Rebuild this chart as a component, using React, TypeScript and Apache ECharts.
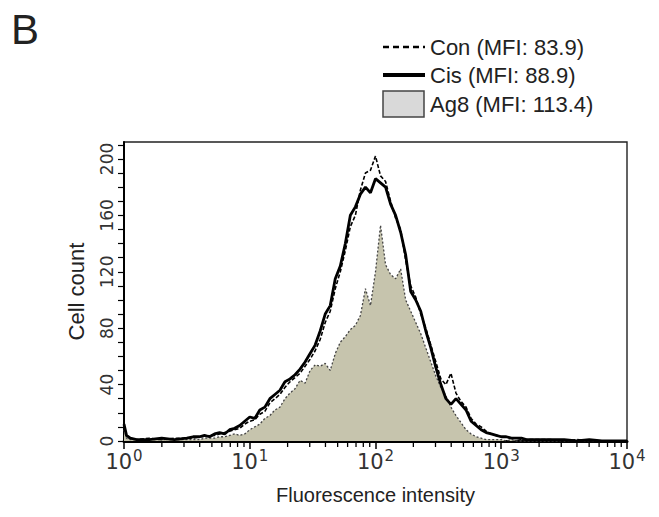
import React, { useEffect, useRef } from "react";
import * as echarts from "echarts";

// Bin centres as decade exponents (x = 10^e)
const binExponents = [
  0, 0.02, 0.05, 0.1, 0.2, 0.3, 0.4, 0.5, 0.55,
  0.6, 0.64, 0.68, 0.72, 0.76, 0.8, 0.84, 0.88, 0.92, 0.96,
  1.0, 1.04, 1.08, 1.12, 1.16, 1.2, 1.24, 1.28, 1.32, 1.36,
  1.4, 1.44, 1.48, 1.52, 1.56, 1.6, 1.64, 1.68, 1.72, 1.76,
  1.8, 1.84, 1.88, 1.92, 1.96, 2.0, 2.04, 2.08, 2.12, 2.16,
  2.2, 2.24, 2.28, 2.32, 2.36, 2.4, 2.44, 2.48, 2.52, 2.56,
  2.6, 2.64, 2.68, 2.72, 2.76, 2.8, 2.84, 2.88, 2.92, 2.96,
  3.0, 3.04, 3.08, 3.12, 3.16, 3.2,
  3.3, 3.4, 3.5, 3.6, 3.7, 3.8, 3.9, 4.0,
];

const conCounts = [
  10, 3, 2, 1, 2, 1, 2, 2, 2,
  3, 3, 4, 4, 5, 6, 7, 8, 9, 12,
  14, 15, 19, 21, 27, 30, 33, 38, 42, 45,
  48, 53, 58, 64, 72, 84, 92, 108, 120, 135,
  152, 160, 178, 190, 192, 202, 188, 184, 170, 158,
  150, 128, 110, 102, 90, 80, 68, 56, 44, 40,
  48, 34, 28, 24, 16, 12, 10, 7, 5, 4,
  3, 3, 2, 2, 1, 1,
  1, 1, 0, 1, 0, 0, 0, 0,
];

const cisCounts = [
  12, 4, 2, 1, 1, 2, 1, 2, 3,
  3, 4, 3, 5, 6, 5, 8, 9, 11, 14,
  17, 16, 22, 24, 30, 33, 36, 42, 44, 47,
  51, 56, 62, 68, 78, 90, 96, 115, 124, 140,
  160, 166, 175, 180, 176, 186, 183, 180, 168, 160,
  148, 132, 106, 100, 92, 78, 66, 52, 40, 30,
  26, 30, 26, 22, 14, 11, 8, 6, 5, 4,
  3, 3, 2, 2, 2, 1,
  1, 1, 1, 0, 1, 0, 0, 0,
];

const ag8Counts = [
  8, 2, 1, 1, 1, 1, 1, 1, 1,
  1, 2, 2, 2, 3, 3, 4, 5, 4, 5,
  8, 10, 12, 16, 18, 22, 24, 30, 34, 37,
  43, 41, 50, 54, 53, 55, 50, 62, 70, 74,
  79, 82, 89, 108, 96, 120, 153, 125, 118, 115,
  122, 100, 92, 84, 76, 66, 56, 46, 38, 32,
  24, 18, 13, 8, 5, 3, 2, 1, 1, 1,
  1, 0, 1, 0, 0, 0,
  0, 0, 0, 0, 0, 0, 0, 0,
];

const legendLabels = ["Con (MFI: 83.9)", "Cis (MFI: 88.9)", "Ag8 (MFI: 113.4)"];

const xMinorTicks = [
  2, 3, 4, 5, 6, 7, 8, 9,
  20, 30, 40, 50, 60, 70, 80, 90,
  200, 300, 400, 500, 600, 700, 800, 900,
  2000, 3000, 4000, 5000, 6000, 7000, 8000, 9000,
];

const SANS = "'Liberation Sans', Arial, Helvetica, sans-serif";
const TICKFONT = "'DejaVu Sans', Verdana, sans-serif";

export default function App() {
  const ref = useRef<HTMLDivElement>(null);

  useEffect(() => {
    if (!ref.current) return;
    const chart = echarts.init(ref.current, undefined, { renderer: "svg" });
    const toPairs = (arr: number[]) => binExponents.map((e, i) => [Math.pow(10, e), arr[i]]);

    const option: any = {
      animation: false,
      backgroundColor: "#ffffff",
      grid: {
        left: 124,
        right: 32,
        top: 142,
        bottom: 76,
        show: true,
        borderColor: "#222",
        borderWidth: 1.4,
        backgroundColor: "transparent",
      },
      xAxis: {
        type: "log",
        logBase: 10,
        min: 1,
        max: 10000,
        interval: 1,
        name: "Fluorescence intensity",
        nameLocation: "middle",
        nameGap: 44,
        nameTextStyle: { fontFamily: SANS, fontSize: 20, color: "#222" },
        axisLine: { show: true, lineStyle: { color: "#000", width: 3 } },
        axisTick: { show: true, inside: false, length: 8, lineStyle: { color: "#000", width: 1.5 } },
        splitLine: { show: false },
        axisLabel: {
          margin: 7,
          formatter: (v: number) => `{b|10}{s|${Math.round(Math.log10(v))}}`,
          rich: {
            b: { fontFamily: TICKFONT, fontSize: 21, color: "#333" },
            s: { fontFamily: TICKFONT, fontSize: 15, color: "#333", padding: [0, 0, 12, 1] },
          },
        },
      },
      yAxis: {
        type: "value",
        min: 0,
        max: 212,
        interval: 10,
        name: "Cell count",
        nameLocation: "middle",
        nameGap: 37,
        nameRotate: 90,
        nameTextStyle: { fontFamily: SANS, fontSize: 22, color: "#222" },
        axisLine: { show: true, lineStyle: { color: "#000", width: 2 } },
        axisTick: { show: true, inside: false, length: 6, lineStyle: { color: "#000", width: 1.2 } },
        splitLine: { show: false },
        axisLabel: {
          rotate: 90,
          margin: 9,
          showMaxLabel: false,
          fontFamily: TICKFONT,
          fontSize: 17,
          color: "#333",
          formatter: (v: number) => (v % 40 === 0 && v <= 200 ? String(v) : ""),
        },
      },
      series: [
        {
          name: "Ag8",
          type: "line",
          data: toPairs(ag8Counts),
          showSymbol: false,
          symbol: "none",
          lineStyle: { color: "#444", width: 1.3, type: [2, 2] },
          areaStyle: { color: "#c6c4ad", opacity: 1 },
          z: 2,
        },
        {
          name: "Cis",
          type: "line",
          data: toPairs(cisCounts),
          showSymbol: false,
          symbol: "none",
          lineStyle: { color: "#000", width: 2.8 },
          z: 3,
        },
        {
          name: "Con",
          type: "line",
          data: toPairs(conCounts),
          showSymbol: false,
          symbol: "none",
          lineStyle: { color: "#000", width: 1.6, type: [4, 2] },
          z: 4,
        },
        {
          name: "minorTicks",
          type: "custom",
          silent: true,
          data: xMinorTicks.map((v) => [v, 0]),
          renderItem: (_params: any, api: any) => {
            const p = api.coord([api.value(0), 0]);
            return {
              type: "line",
              shape: { x1: p[0], y1: p[1], x2: p[0], y2: p[1] + 6 },
              style: { stroke: "#000", lineWidth: 1.3 },
            };
          },
          z: 5,
        },
      ],
      graphic: [
        { type: "text", left: 11, top: 8, style: { text: "B", font: `42px ${SANS}`, fill: "#222" } },
        {
          type: "line",
          shape: { x1: 383, y1: 47, x2: 425, y2: 47 },
          style: { stroke: "#000", lineWidth: 2.5, lineDash: [6, 4] },
        },
        {
          type: "text",
          x: 430,
          y: 47,
          style: { text: legendLabels[0], font: `22px ${SANS}`, fill: "#222", textVerticalAlign: "middle" },
        },
        {
          type: "line",
          shape: { x1: 383, y1: 75, x2: 425, y2: 75 },
          style: { stroke: "#000", lineWidth: 4 },
        },
        {
          type: "text",
          x: 430,
          y: 75,
          style: { text: legendLabels[1], font: `22px ${SANS}`, fill: "#222", textVerticalAlign: "middle" },
        },
        {
          type: "rect",
          shape: { x: 383, y: 91, width: 41, height: 26 },
          style: { fill: "#d9d9d9", stroke: "#444", lineWidth: 1.5 },
        },
        {
          type: "text",
          x: 430,
          y: 104,
          style: { text: legendLabels[2], font: `22px ${SANS}`, fill: "#222", textVerticalAlign: "middle" },
        },
      ],
    };

    chart.setOption(option);
    return () => chart.dispose();
  }, []);

  return (
    <div
      ref={ref}
      style={{ position: "fixed", left: 0, top: 0, width: 659, height: 517, background: "#fff" }}
    />
  );
}
